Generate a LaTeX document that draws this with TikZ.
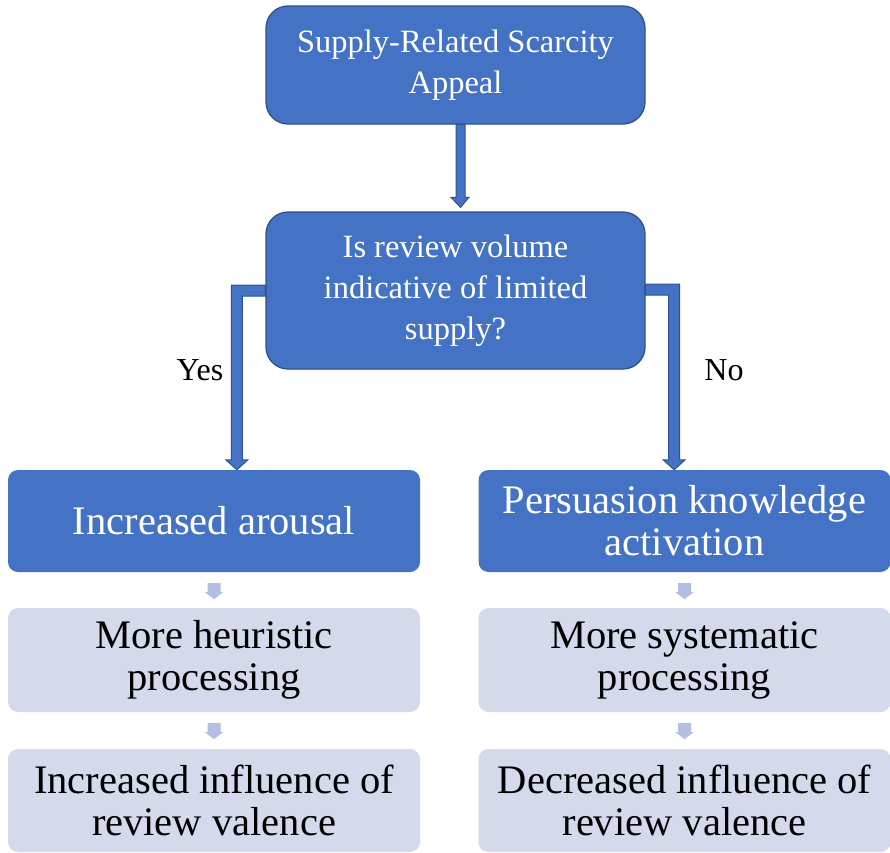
\documentclass[tikz,border=0pt]{standalone}
\usepackage{fontspec}
\setmainfont{Liberation Serif}
\usetikzlibrary{calc}

\definecolor{boxblue}{RGB}{68,114,196}
\definecolor{boxedge}{RGB}{47,82,143}
\definecolor{lightbox}{RGB}{212,217,236}
\definecolor{arrowlight}{RGB}{178,191,226}

\tikzset{
    mainbox/.style={rounded corners=22pt, fill=boxblue, draw=boxedge, line width=1.3pt,
        text=white, align=center, minimum width=379pt, inner sep=0pt,
        font=\fontsize{32.5}{41}\selectfont},
    stepblue/.style={rounded corners=10pt, fill=boxblue, text=white, align=center,
        minimum width=412pt, inner sep=0pt, font=\fontsize{40.5}{42}\selectfont},
    steplight/.style={stepblue, fill=lightbox, text=black},
    blockarrow/.style={fill=boxblue, draw=boxedge, line width=1pt, line join=miter},
    smallarrow/.style={fill=arrowlight},
    answer/.style={font=\fontsize{32}{38}\selectfont}
}

\begin{document}
\begin{tikzpicture}[x=1pt, y=-1pt]
    \useasboundingbox (0,0) rectangle (890,852);

    % Question boxes
    \node[mainbox, minimum height=118pt] (appeal) at (455.5,65) {Supply-Related Scarcity\\Appeal};
    \node[mainbox, minimum height=157pt] (check) at (455.5,290.5) {Is review volume\\indicative of limited\\supply?};

    % Left column
    \node[stepblue, minimum height=102pt] (arousal) at (214,521) {Increased arousal};
    \node[steplight, minimum height=104pt] (heur) at (214,660) {More heuristic\\processing};
    \node[steplight, minimum height=103pt] (infl) at (214,800.5) {Increased influence of\\review valence};

    % Right column
    \node[stepblue, minimum height=102pt] (pk) at (684.5,521) {Persuasion knowledge\\activation};
    \node[steplight, minimum height=104pt] (syst) at (684.5,660) {More systematic\\processing};
    \node[steplight, minimum height=103pt] (decr) at (684.5,800.5) {Decreased influence of\\review valence};

    % Arrow into the question
    \draw[blockarrow] ($(appeal.south)+(0.5,0)$) -- ($(check.north)+(0.5,-14)$)
        -- ($(check.north)+(-4.5,-14)$) -- ($(check.north)+(5,-4)$)
        -- ($(check.north)+(13.5,-14)$) -- ($(check.north)+(9.5,-14)$)
        -- ($(appeal.south)+(9.5,0)$) -- cycle;

    % Yes branch
    \coordinate (yes) at ($(check.west)+(-28.5,0)$);
    \draw[blockarrow] ($(check.west)+(0,-5.5)$) -- ($(yes)+(-5.5,-5.5)$)
        -- ($(yes |- arousal.north)+(-5.5,-10)$) -- ($(yes |- arousal.north)+(-11,-10)$)
        -- (yes |- arousal.north) -- ($(yes |- arousal.north)+(11,-10)$)
        -- ($(yes |- arousal.north)+(5.5,-10)$) -- ($(yes)+(5.5,5.5)$)
        -- ($(check.west)+(0,5.5)$) -- cycle;
    \node[answer] (yeslabel) at (200,370) {Yes};

    % No branch
    \coordinate (no) at ($(check.east)+(28.5,-1)$);
    \draw[blockarrow] ($(check.east)+(0,-6.5)$) -- ($(no)+(5.5,-5.5)$)
        -- ($(no |- pk.north)+(5.5,-10)$) -- ($(no |- pk.north)+(11,-10)$)
        -- (no |- pk.north) -- ($(no |- pk.north)+(-11,-10)$)
        -- ($(no |- pk.north)+(-5.5,-10)$) -- ($(no)+(-5.5,5.5)$)
        -- ($(check.east)+(0,4.5)$) -- cycle;
    \node[answer] (nolabel) at (724,370) {No};

    % Small arrows between the steps
    \foreach \a in {arousal, pk, heur, syst} {
        \fill[smallarrow] ($(\a.south)+(-6.5,11)$) -- ++(0,9) -- ++(-2.5,0)
            -- ++(9,7) -- ++(9,-7) -- ++(-2.5,0) -- ++(0,-9) -- cycle;
    }
\end{tikzpicture}
\end{document}
